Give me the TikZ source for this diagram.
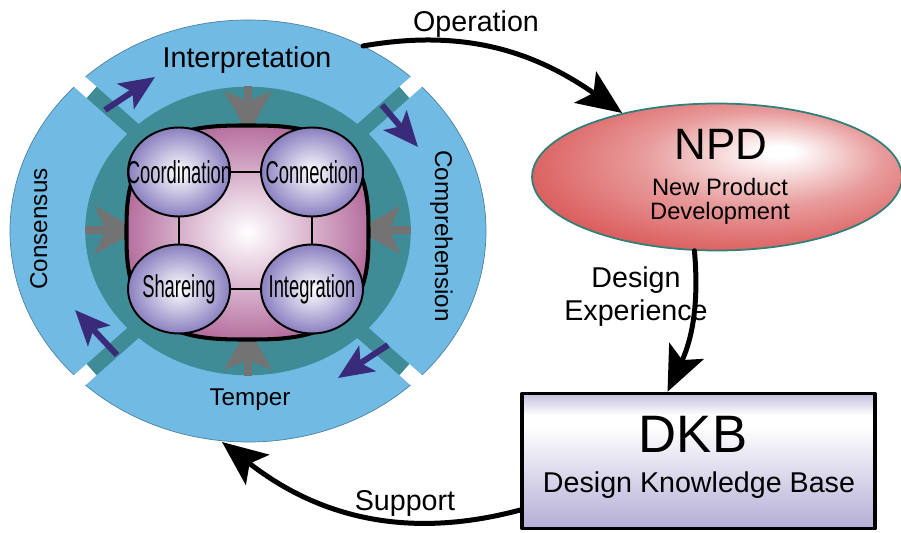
\documentclass[tikz,border=0pt]{standalone}
\usepackage{fontspec}
\setmainfont{Liberation Sans}
\usepackage{graphicx}
\usetikzlibrary{arrows.meta,shapes.geometric}
\definecolor{ringblue}{RGB}{112,186,228}
\definecolor{ringteal}{RGB}{64,140,150}
\definecolor{coremauve}{RGB}{182,112,160}
\definecolor{celllav}{RGB}{138,128,192}
\definecolor{pushgray}{RGB}{115,115,115}
\definecolor{turnpurple}{RGB}{58,42,122}
\definecolor{npdred}{RGB}{212,58,58}
\definecolor{npdpink}{RGB}{232,156,156}
\definecolor{npdedge}{RGB}{46,128,120}
\definecolor{dkblav}{RGB}{180,174,214}
\pgfdeclareradialshading{npdshade}{\pgfpoint{9bp}{9bp}}{color(0bp)=(white); color(2bp)=(white); color(16bp)=(npdpink); color(38bp)=(npdred); color(50bp)=(npdred)}
\pgfdeclareverticalshading{dkbshade}{100bp}{color(0bp)=(dkblav); color(25bp)=(dkblav); color(63bp)=(white); color(67bp)=(white); color(75bp)=(dkblav!80!white); color(100bp)=(dkblav)}
\newcommand{\cellname}[1]{\scalebox{0.58}[1]{\fontsize{18}{18}\selectfont #1}}
\begin{document}
\begin{tikzpicture}[x=0.02cm,y=0.02cm,line join=round,line cap=round,
cell/.style={ellipse,draw,line width=1.1pt,inner sep=0pt,minimum width=2.04cm,minimum height=1.78cm,inner color=white,outer color=celllav},
tie/.style={line width=0.9pt},
push/.style={pushgray,line width=0.16cm,line cap=butt,-{Stealth[length=0.86cm,width=0.95cm,inset=0.22cm]}},
turn/.style={turnpurple,line width=0.12cm,line cap=butt,-{Stealth[length=0.7cm,width=0.6cm,inset=0.16cm]}},
flow/.style={line width=0.1cm,-{Stealth[length=0.9cm,width=0.76cm,inset=0.2cm]}},
big/.style={font=\fontsize{16.3}{18}\selectfont},
small/.style={font=\fontsize{13.8}{16}\selectfont}]
\useasboundingbox (0,-533) rectangle (901,0);

% the four stages round the core
\begin{scope}[shift={(248,-231)},xscale=2.38,yscale=2.11]
\fill[ringblue] (0,0) circle[radius=100];
\draw[ringblue!70!black,line width=0.4pt] (0,0) circle[radius=100];
\fill[ringteal] (0,0) circle[radius=68.4];
\foreach \a in {45,135,225,315}
{
\draw[ringteal,line width=0.3cm,line cap=butt] (\a:60)--(\a:93);
\draw[white,line width=0.3cm,line cap=butt] (\a:93)--(\a:104);
}
\end{scope}

\draw[push] (248,-86)--(248,-134);
\draw[push] (248,-376)--(248,-327);
\draw[push] (85,-230)--(138,-230);
\draw[push] (411,-230)--(357,-230);

\draw[turn] (105,-110)--(155,-77);
\draw[turn] (382,-105)--(418,-147);
\draw[turn] (388,-345)--(338,-378);
\draw[turn] (117,-355)--(75,-310);

% core, a rounded square
\draw[line width=2.3pt,inner color=white,outer color=coremauve] plot[domain=0:360,samples=120,smooth cycle]
({247.5+121*sign(cos(\x))*abs(cos(\x))^0.7},{-232.5+107*sign(sin(\x))*abs(sin(\x))^0.7});

\node[cell,label=center:{\cellname{Coordination}}] (coord) at (179,-172) {};
\node[cell,label=center:{\cellname{Connection}}] (conn) at (312,-172) {};
\node[cell,label=center:{\cellname{Shareing}}] (share) at (179,-289) {};
\node[cell,label=center:{\cellname{Integration}}] (integ) at (312,-289) {};
\draw[tie] (coord)--(conn) (coord)--(share) (conn)--(integ) (share)--(integ);

\path (247,-68)node[big,anchor=base]{Interpretation}
(250,-405)node[small,anchor=base]{Temper}
(47,-229)node[small,anchor=base,rotate=90]{Consensus}
(435,-236)node[small,anchor=base,rotate=-90]{Comprehension};

% NPD and DKB
\node[ellipse,draw=npdedge,line width=1pt,shade,shading=npdshade,minimum width=7.4cm,minimum height=2.94cm,inner sep=0pt] (npd) at (717,-177) {};
\node[draw,line width=2pt,shade,shading=dkbshade,minimum width=7.06cm,minimum height=2.7cm,inner sep=0pt] (dkb) at (698.5,-461) {};
\path (721,-160)node[anchor=base,font=\fontsize{25}{25}\selectfont]{NPD}
(720,-196)node[anchor=base,font=\fontsize{13.5}{15}\selectfont]{New Product}
(720,-220)node[anchor=base,font=\fontsize{13.5}{15}\selectfont]{Development}
(693,-452)node[anchor=base,font=\fontsize{30}{30}\selectfont]{DKB}
(699,-492)node[big,anchor=base]{Design Knowledge Base};

\coordinate (opstart) at (363,-46);
\coordinate (supend) at (222,-442);
\draw[flow] (opstart) to[out=10,in=145] (npd.146);
\draw[flow] (npd.-107) to[out=-85,in=65] ([xshift=-0.62cm]dkb.north);
\draw[flow] ([yshift=-0.98cm]dkb.west) to[out=195,in=-38] (supend);

\path (476,-32)node[big,anchor=base]{Operation}
(405,-510)node[big,anchor=base]{Support}
(636,-287)node[big,anchor=base]{Design}
(636,-320)node[big,anchor=base]{Experience};
\end{tikzpicture}
\end{document}
